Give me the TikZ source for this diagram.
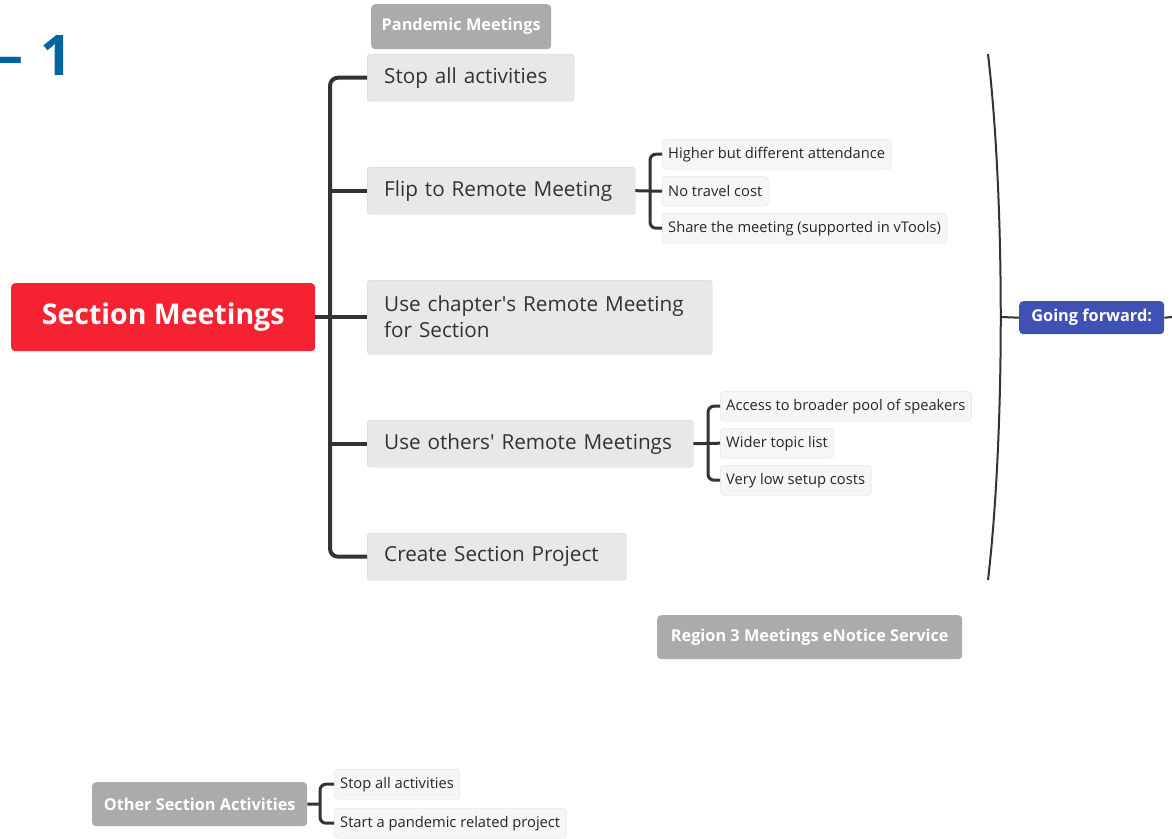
\documentclass[tikz,border=0pt]{standalone}
\usepackage{fontspec}
\setmainfont{Open Sans}
\definecolor{sectionred}{RGB}{245,34,49}
\definecolor{forwardblue}{RGB}{63,81,181}
\definecolor{titlegray}{RGB}{171,171,171}
\definecolor{boxgray}{RGB}{232,232,232}
\definecolor{leafgray}{RGB}{246,246,246}
\definecolor{inkgray}{RGB}{51,51,51}
\definecolor{numblue}{RGB}{0,102,161}
\tikzset{
  topic/.style={draw=black!18, fill=boxgray, rounded corners=3, text=inkgray,
    font=\fontsize{20.7}{26}\selectfont, inner xsep=17, minimum height=47,
    anchor=north west, align=left},
  leaf/.style={draw=black!13, fill=leafgray, rounded corners=4, text=black!85,
    font=\fontsize{14.7}{17}\selectfont, inner xsep=6, minimum height=30,
    anchor=north west},
  tag/.style={fill=titlegray, rounded corners=4, text=white,
    font=\bfseries\fontsize{16.3}{19}\selectfont, minimum height=44,
    anchor=north west},
  branch/.style={draw=inkgray, line width=4, rounded corners=8},
  twig/.style={draw=inkgray, line width=3, rounded corners=6}
}
\begin{document}
\begin{tikzpicture}[x=1pt, y=-1pt]
  \useasboundingbox (0,0) rectangle (1172,838);
  % slide number
  \node[anchor=base west, inner sep=0, text=numblue,
        font=\bfseries\fontsize{56}{62}\selectfont] (num) at (-5,75) {–\hspace{17pt}1};
  % central topic
  \node[fill=sectionred, rounded corners=4, text=white, anchor=north west,
        font=\bfseries\fontsize{28.5}{32}\selectfont, minimum width=304, minimum height=68]
        (sm) at (11,283) {Section Meetings};
  \node[tag, minimum width=180, minimum height=45] (pm) at (371,4) {Pandemic Meetings};
  % main branches
  \node[topic, text width=173] (stop)   at (367,54)  {Stop all activities};
  \node[topic, text width=234] (flip)   at (367,167) {Flip to Remote Meeting};
  \node[topic, text width=311, minimum height=74]
                               (chap)   at (367,280) {Use chapter\textquotesingle s Remote Meeting\\for Section};
  \node[topic, text width=292] (others) at (367,420) {Use others\textquotesingle\ Remote Meetings};
  \node[topic, text width=225] (create) at (367,533) {Create Section Project};
  \coordinate (tk) at (330,317);
  \draw[branch] (sm.east) -- (chap.west);
  \draw[branch] (stop.west) -| (tk) |- (create.west);
  \draw[branch] (flip.west -| tk) -- (flip.west);
  \draw[branch] (others.west -| tk) -- (others.west);
  % flip details
  \node[leaf] (hi)    at (662,139) {Higher but different attendance};
  \node[leaf] (trav)  at (662,176) {No travel cost};
  \node[leaf] (share) at (662,213) {Share the meeting (supported in vTools)};
  \coordinate (fk) at (650,191);
  \draw[twig] (flip.east) -- (trav.west);
  \draw[twig] (hi.west) -| (fk) |- (share.west);
  % others details
  \node[leaf] (pool)  at (720,391) {Access to broader pool of speakers};
  \node[leaf] (wide)  at (720,428) {Wider topic list};
  \node[leaf] (low)   at (720,465) {Very low setup costs};
  \coordinate (ok) at (708,443);
  \draw[twig] (others.east) -- (wide.west);
  \draw[twig] (pool.west) -| (ok) |- (low.west);
  % summary brace
  \coordinate (bt) at (988,54);
  \coordinate (bb) at (988,580);
  \coordinate (bm) at (1001,317);
  \draw[inkgray, line width=2] (bt) .. controls (1005,200) and (1005,434) .. (bb);
  \node[fill=forwardblue, rounded corners=4, text=white, anchor=north west,
        font=\bfseries\fontsize{16.3}{19}\selectfont, minimum width=145, minimum height=33]
        (gf) at (1019,301) {Going forward:};
  \coordinate (gfe) at (1172,317);
  \draw[inkgray, line width=2] (bm) -- (gf.west);
  \draw[inkgray, line width=2] (gf.east) -- (gfe);
  % floating topics
  \node[tag, minimum width=305] (r3) at (657,615) {Region 3 Meetings eNotice Service};
  \node[tag, minimum width=215] (osa) at (92,782) {Other Section Activities};
  \node[leaf] (ostop)  at (334,769) {Stop all activities};
  \node[leaf] (oproj)  at (334,808) {Start a pandemic related project};
  \coordinate (sk) at (320,804);
  \draw[twig] (osa.east) -- (sk);
  \draw[twig] (ostop.west) -| (sk) |- (oproj.west);
\end{tikzpicture}
\end{document}
